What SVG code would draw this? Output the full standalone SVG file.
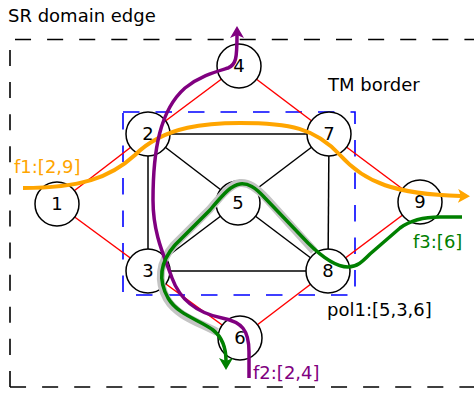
<svg xmlns="http://www.w3.org/2000/svg" width="474" height="393" viewBox="0 0 474 393">
<style>
text{font-family:"DejaVu Sans","Liberation Sans",sans-serif;font-size:18px}
.lbl{text-anchor:middle}
.node{fill:#fff;stroke:#000;stroke-width:1.5}
.red{stroke:#ff0000;stroke-width:1.5}
.blk{stroke:#000;stroke-width:1.5}
.dom{fill:none;stroke:#000;stroke-width:1.6;stroke-dasharray:16.05 16.05}
.tm{fill:none;stroke:#0000ff;stroke-width:1.6;stroke-dasharray:16.5 16}
.flow{fill:none;stroke-linecap:butt}
</style>
<defs>
<marker id="ahO" viewBox="0 0 12 14" refX="3" refY="7" markerWidth="12" markerHeight="14" markerUnits="userSpaceOnUse" orient="auto"><path d="M0,0 L12,7 L0,14 L3,7 Z" fill="#ffa500"/></marker>
<marker id="ahP" viewBox="0 0 12 14" refX="3" refY="7" markerWidth="12" markerHeight="14" markerUnits="userSpaceOnUse" orient="auto"><path d="M0,0 L12,7 L0,14 L3,7 Z" fill="#800080"/></marker>
<marker id="ahG" viewBox="0 0 12 14" refX="3" refY="7" markerWidth="12" markerHeight="14" markerUnits="userSpaceOnUse" orient="auto"><path d="M0,0 L12,7 L0,14 L3,7 Z" fill="#008000"/></marker>
</defs>
<g id="borders">
<path class="dom" d="M10,39.5 H480" stroke-dashoffset="27.1"/>
<path class="dom" d="M10,387 V39.5"/>
<path class="dom" d="M10,387 H480"/>
<path class="tm" d="M123,112 H355 V295 H123 Z"/>
<text x="8" y="22">SR domain edge</text>
<text x="328" y="91">TM border</text>
</g>
<g id="connectors">
<line class="red" x1="57" y1="204" x2="148" y2="134"/>
<line class="red" x1="57" y1="204" x2="148" y2="271"/>
<line class="red" x1="148" y1="134" x2="239" y2="66"/>
<line class="red" x1="239" y1="66" x2="329" y2="134"/>
<line class="red" x1="329" y1="134" x2="420" y2="202"/>
<line class="red" x1="420" y1="202" x2="328" y2="271"/>
<line class="red" x1="148" y1="271" x2="240" y2="338"/>
<line class="red" x1="240" y1="338" x2="328" y2="271"/>
<line class="blk" x1="148" y1="134" x2="329" y2="134"/>
<line class="blk" x1="148" y1="134" x2="148" y2="271"/>
<line class="blk" x1="329" y1="134" x2="328" y2="271"/>
<line class="blk" x1="148" y1="271" x2="328" y2="271"/>
<line class="blk" x1="148" y1="134" x2="238" y2="203"/>
<line class="blk" x1="329" y1="134" x2="238" y2="203"/>
<line class="blk" x1="148" y1="271" x2="238" y2="203"/>
<line class="blk" x1="328" y1="271" x2="238" y2="203"/>
</g>
<g id="n1"><circle class="node" cx="57" cy="204" r="22"/><text class="lbl" x="57" y="209.5">1</text></g>
<g id="n2"><circle class="node" cx="148" cy="134" r="22"/><text class="lbl" x="148" y="139.5">2</text></g>
<g id="n3"><circle class="node" cx="148" cy="271" r="22"/><text class="lbl" x="148" y="276.5">3</text></g>
<g id="n4"><circle class="node" cx="239" cy="66" r="22"/><text class="lbl" x="239" y="71.5">4</text></g>
<g id="n5"><circle class="node" cx="238" cy="203" r="22"/><text class="lbl" x="238" y="208.5">5</text></g>
<g id="n6"><circle class="node" cx="240" cy="338" r="22"/><text class="lbl" x="240" y="343.5">6</text></g>
<g id="n7"><circle class="node" cx="329" cy="134" r="22"/><text class="lbl" x="329" y="139.5">7</text></g>
<g id="n8"><circle class="node" cx="328" cy="271" r="22"/><text class="lbl" x="328" y="276.5">8</text></g>
<g id="n9"><circle class="node" cx="420" cy="202" r="22"/><text class="lbl" x="420" y="207.5">9</text></g>
<g id="flows">
<path class="flow" stroke="#c4c4c4" stroke-width="8" d="M314,251 L266,198 C256,187 248,182 240,183 C232,184 225,191 210,209 L174,245 C159,262 157,281 167,299 C177,316 198,322 217,332"/>
<path class="flow" stroke="#ffa500" stroke-width="4" marker-end="url(#ahO)" d="M23,188 C80,188 110,178 135,155 C165,125 210,123 240,123 C290,123 315,128 340,155 C365,183 395,194 461,196"/>
<path class="flow" stroke="#800080" stroke-width="3.5" marker-end="url(#ahP)" d="M249,378 L249,352 C249,330 242,322 222,318 C197,313 180,300 172,278 C165,258 153,235 153,200 C153,150 160,110 185,88 C200,76 215,72 228,68 C236,65 237,58 237,35"/>
<path class="flow" stroke="#008000" stroke-width="3.5" marker-end="url(#ahG)" d="M462,217 L440,217 C425,217 412,219 400,228 L370,254 C362,262 357,267 348,267 C335,267 322,257 308,243 L265,198 C255,187 248,183 240,184 C232,185 225,192 210,210 L175,245 C160,262 158,280 168,298 C178,315 200,320 213,330 C222,337 226,348 226,361"/>
<text x="14" y="173" fill="#ffa500">f1:[2,9]</text>
<text x="253" y="379" fill="#800080">f2:[2,4]</text>
<text x="413" y="248" fill="#008000">f3:[6]</text>
<text x="327" y="316">pol1:[5,3,6]</text>
</g>
</svg>
